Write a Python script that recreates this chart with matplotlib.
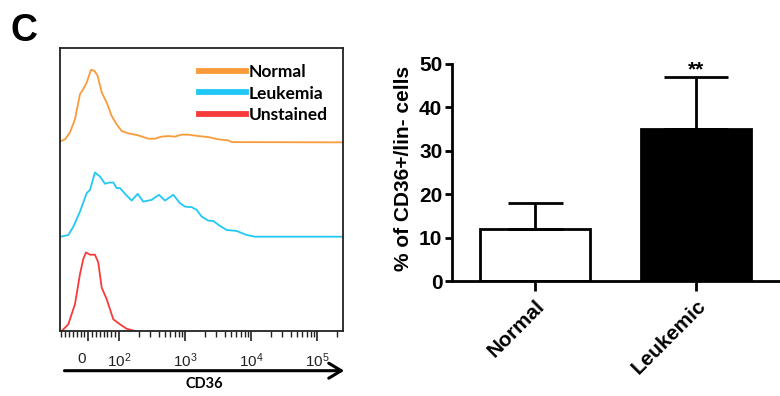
import numpy as np
import matplotlib
matplotlib.use("Agg")
import matplotlib.pyplot as plt
from matplotlib.lines import Line2D
from matplotlib.patches import FancyArrowPatch
from matplotlib.transforms import ScaledTranslation

# ---------------- data ----------------
# Histogram traces: x = position on the CD36 (biexponential) display in decade units
normal_pos = [1.121, 1.182, 1.258, 1.333, 1.409, 1.459, 1.511, 1.576, 1.626, 1.677, 1.738, 1.814,
              1.889, 1.965, 2.041, 2.141, 2.292, 2.444, 2.545, 2.647, 2.747, 2.848, 2.950, 3.050,
              3.202, 3.353, 3.505, 3.656, 3.712, 5.394]
normal_h = [0.014, 0.032, 0.106, 0.245, 0.511, 0.564, 0.635, 0.769, 0.759, 0.705, 0.529, 0.422,
            0.280, 0.191, 0.120, 0.096, 0.074, 0.039, 0.039, 0.061, 0.067, 0.061, 0.082, 0.082,
            0.067, 0.056, 0.032, 0.021, 0.003, 0.0]

leuk_pos = [1.121, 1.232, 1.308, 1.409, 1.511, 1.561, 1.636, 1.712, 1.788, 1.853, 1.914, 1.965,
            2.015, 2.106, 2.192, 2.283, 2.368, 2.495, 2.606, 2.697, 2.823, 2.924, 3.000, 3.102,
            3.177, 3.253, 3.353, 3.429, 3.530, 3.632, 3.783, 3.935, 4.061, 5.394]
leuk_h = [0.0, 0.018, 0.106, 0.266, 0.462, 0.497, 0.681, 0.638, 0.561, 0.574, 0.574, 0.515,
          0.515, 0.444, 0.383, 0.454, 0.372, 0.390, 0.444, 0.383, 0.444, 0.355, 0.319, 0.313,
          0.284, 0.213, 0.170, 0.167, 0.114, 0.071, 0.061, 0.018, 0.0, 0.0]

unst_pos = [1.132, 1.232, 1.333, 1.409, 1.459, 1.500, 1.561, 1.636, 1.686, 1.738, 1.814, 1.914,
            2.015, 2.117, 2.242]
unst_h = [0.0, 0.071, 0.284, 0.603, 0.763, 0.833, 0.809, 0.809, 0.727, 0.461, 0.337, 0.124,
          0.071, 0.024, 0.0]

hist_labels = ["Normal", "Leukemia", "Unstained"]
hist_colors = ["#F99B3B", "#22C8F5", "#F73B3B"]

axis_tick_labels = ["0", r"$\mathregular{10^2}$", r"$\mathregular{10^3}$",
                    r"$\mathregular{10^4}$", r"$\mathregular{10^5}$"]

# Bar chart
groups = ["Normal", "Leukemic"]
means = [12, 35]
errs = [6, 12]
bar_colors = ["white", "black"]
y_ticks = [0, 10, 20, 30, 40, 50]

# ---------------- figure ----------------
fig = plt.figure(figsize=(7.8, 3.96), dpi=100)

# ---- left: flow histograms ----
axL = fig.add_axes([0.0769, 0.1641, 0.3628, 0.7146])
traces = [(normal_pos, normal_h), (leuk_pos, leuk_h), (unst_pos, unst_h)]
offsets = [2, 1, 0]
for (pos, h), off, c in zip(traces, offsets, hist_colors):
    axL.plot(pos, np.asarray(h) + off, color=c, lw=1.3, solid_joinstyle="round")
axL.set_xlim(1.106, 5.394)
axL.set_ylim(0, 3)
axL.set_yticks([])
for s in axL.spines.values():
    s.set_linewidth(1.3)
    s.set_color("#222222")

zero_pos = 1.535
major = [zero_pos, 2, 3, 4, 5]
axL.set_xticks(major)
axL.set_xticklabels(axis_tick_labels, fontsize=11, family="Liberation Sans", color="#222222")
step = (2 - zero_pos) / 8
minor = [zero_pos + k * step for k in range(-7, 8) if k != 0]
for d in (2, 3, 4, 5):
    for k in range(2, 10):
        v = d + np.log10(k)
        if v < 5.394:
            minor.append(v)
axL.set_xticks(minor, minor=True)
axL.tick_params(axis="x", which="major", length=7, width=1.2, pad=8, color="#222222")
axL.tick_params(axis="x", which="minor", length=4, width=1.0, color="#222222")
zero_lab = axL.get_xticklabels()[0]
zero_lab.set_transform(zero_lab.get_transform() +
                       ScaledTranslation(-0.07, 0, fig.dpi_scale_trans))

handles = [Line2D([], [], color=c, lw=4.2) for c in hist_colors]
axL.legend(handles, hist_labels, loc="upper left", bbox_to_anchor=(0.49, 0.945),
           frameon=False, borderaxespad=0, borderpad=0, handlelength=2.7,
           handletextpad=0.2, labelspacing=0.34,
           prop={"family": "Lato", "weight": "bold", "size": 12.5})

# arrow and axis title
fig.add_artist(FancyArrowPatch((61.7 / 780, 1 - 370.7 / 396), (347 / 780, 1 - 370.7 / 396),
                               transform=fig.transFigure,
                               arrowstyle="->,head_length=0.5,head_width=0.3",
                               mutation_scale=18, lw=2.2, color="black"))
fig.text(204 / 780, 1 - 384 / 396, "CD36", fontsize=10.5, family="Lato", weight="bold",
         ha="center", va="center")
fig.text(24 / 780, 1 - 31 / 396, "C", fontsize=27, family="Liberation Sans", weight="bold",
         ha="center", va="center")

# ---- right: bar chart ----
axR = fig.add_axes([0.5795, 0.2904, 0.419, 0.548])
x = np.arange(len(groups))
axR.bar(x, means, width=0.68, color=bar_colors, edgecolor="black", linewidth=2, zorder=2)
capsizes = [19.8, 23.3]
for i in range(len(groups)):
    axR.errorbar(x[i], means[i], yerr=[[0], [errs[i]]], fmt="none", ecolor="black",
                 elinewidth=2, capsize=capsizes[i], capthick=2, zorder=3)
axR.text(x[1], 47.4, "**", ha="center", va="baseline", fontsize=15,
         family="Liberation Sans", weight="bold", clip_on=False)
axR.set_xlim(-0.51, 1.51)
axR.set_ylim(0, 50)
axR.set_yticks(y_ticks)
axR.set_xticks(x)
axR.spines["top"].set_visible(False)
axR.spines["right"].set_visible(False)
axR.spines["left"].set_linewidth(2)
axR.spines["bottom"].set_linewidth(2)
axR.tick_params(axis="y", length=5, width=2, pad=2)
axR.tick_params(axis="x", length=7, width=2, pad=4)
for lab in axR.get_yticklabels():
    lab.set_fontsize(15)
    lab.set_family("Liberation Sans")
    lab.set_fontweight("bold")
axR.set_xticklabels(groups, rotation=45, ha="right", va="top", rotation_mode="anchor",
                    fontsize=15, family="Liberation Sans", fontweight="bold")
axR.set_ylabel("% of CD36+/lin- cells", fontsize=15, family="Liberation Sans",
               fontweight="bold")
axR.yaxis.set_label_coords(-0.118, 0.52)

fig.savefig("out.png", dpi=100)
